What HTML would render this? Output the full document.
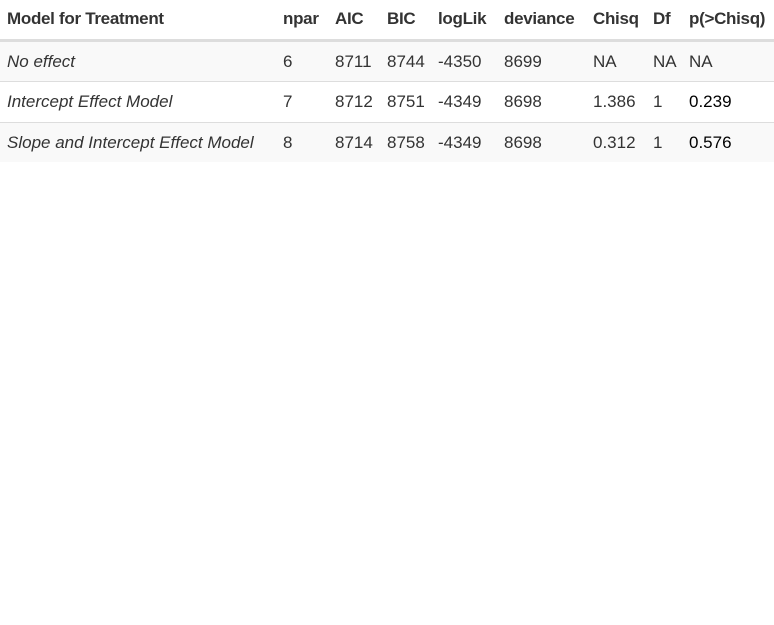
<!DOCTYPE html>
<html><head><meta charset="utf-8"><style>
body{margin:0;width:774px;height:625px;background:#fff;font-family:"Liberation Sans",sans-serif;color:#333;position:relative;overflow:hidden}
.row{position:absolute;left:0;width:774px}
.c{position:absolute;white-space:nowrap;font-size:17px}
.h .c{font-weight:bold;font-size:17px;top:9px;letter-spacing:-0.3px}
.d .c{top:10px}
.m{font-style:italic}
</style></head><body>
<div class="row h" style="top:0;height:39px">
<span class="c" style="left:7px">Model for Treatment</span>
<span class="c" style="left:283px">npar</span>
<span class="c" style="left:335px">AIC</span>
<span class="c" style="left:387px">BIC</span>
<span class="c" style="left:438px">logLik</span>
<span class="c" style="left:504px">deviance</span>
<span class="c" style="left:593px">Chisq</span>
<span class="c" style="left:653px">Df</span>
<span class="c" style="left:689px">p(&gt;Chisq)</span>
</div>
<div style="position:absolute;top:39px;left:0;width:774px;height:3px;background:#ddd"></div>
<div class="row d" style="top:42px;height:39px;background:#f9f9f9;border-bottom:1px solid #ddd">
<span class="c m" style="left:7px">No effect</span><span class="c" style="left:283px">6</span><span class="c" style="left:335px">8711</span><span class="c" style="left:387px">8744</span><span class="c" style="left:438px">-4350</span><span class="c" style="left:504px">8699</span><span class="c" style="left:593px">NA</span><span class="c" style="left:653px">NA</span><span class="c" style="left:689px">NA</span>
</div>
<div class="row d" style="top:82px;height:40px;background:#fff;border-bottom:1px solid #ddd">
<span class="c m" style="left:7px">Intercept Effect Model</span><span class="c" style="left:283px">7</span><span class="c" style="left:335px">8712</span><span class="c" style="left:387px">8751</span><span class="c" style="left:438px">-4349</span><span class="c" style="left:504px">8698</span><span class="c" style="left:593px">1.386</span><span class="c" style="left:653px">1</span><span class="c" style="left:689px;color:#000">0.239</span>
</div>
<div class="row d" style="top:123px;height:39px;background:#f9f9f9">
<span class="c m" style="left:7px">Slope and Intercept Effect Model</span><span class="c" style="left:283px">8</span><span class="c" style="left:335px">8714</span><span class="c" style="left:387px">8758</span><span class="c" style="left:438px">-4349</span><span class="c" style="left:504px">8698</span><span class="c" style="left:593px">0.312</span><span class="c" style="left:653px">1</span><span class="c" style="left:689px;color:#000">0.576</span>
</div>
</body></html>
